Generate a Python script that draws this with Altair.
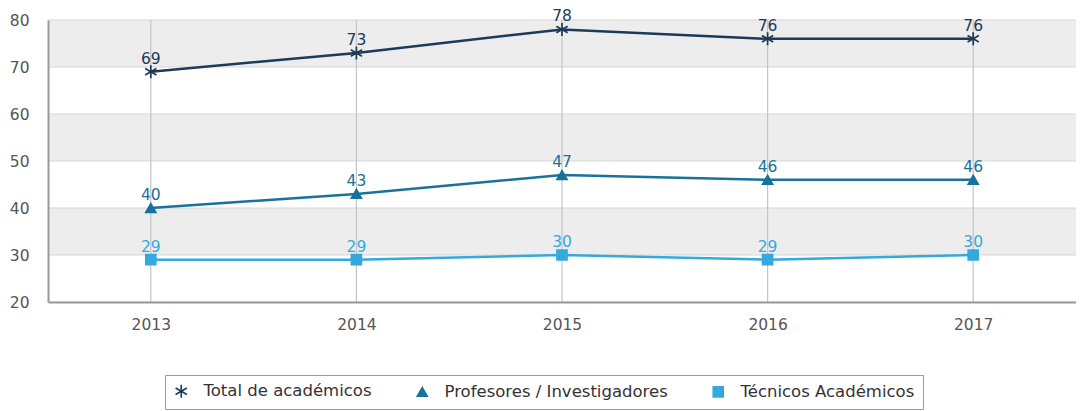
import altair as alt
import pandas as pd

years = [2013, 2014, 2015, 2016, 2017]
series = ["Total de académicos", "Profesores / Investigadores", "Técnicos Académicos"]
total = [69, 73, 78, 76, 76]
profesores = [40, 43, 47, 46, 46]
tecnicos = [29, 29, 30, 29, 30]
colors = ["#1d3a58", "#19729a", "#35a9dd"]
band_lo = [30, 50, 70]
band_hi = [40, 60, 80]
y_ticks = [20, 30, 40, 50, 60, 70, 80]

rows = []
for name, vals in zip(series, [total, profesores, tecnicos]):
    for yr, v in zip(years, vals):
        rows.append({"year": str(yr), "serie": name, "value": v})
df = pd.DataFrame(rows)
bands = pd.DataFrame({"lo": band_lo, "hi": band_hi})
ygrid = pd.DataFrame({"v": y_ticks})
xgrid = pd.DataFrame({"year": [str(y) for y in years]})

asterisk = "M0,-1.3L0,1.3M-1.13,-0.65L1.13,0.65M-1.13,0.65L1.13,-0.65"

xscale = alt.Scale(type="point", domain=[str(y) for y in years], padding=0.5)
xaxis = alt.Axis(title=None, labelAngle=0, labelFontSize=15.5, labelColor="#555",
                 labelPadding=15, ticks=False, domain=True, domainColor="#999",
                 domainWidth=2, grid=False, zindex=1)
yscale = alt.Scale(domain=[20, 80], nice=False, zero=False)
yaxis = alt.Axis(title=None, values=y_ticks, labelFontSize=15.5, labelColor="#555",
                 labelPadding=19, ticks=False, domainColor="#999", domainWidth=2,
                 grid=False, zindex=1)

band_layer = alt.Chart(bands).mark_rect(color="#ededee").encode(
    y=alt.Y("lo:Q", scale=yscale, axis=yaxis),
    y2="hi:Q",
    x=alt.value(0),
    x2=alt.value(1028),
)

hgrid = alt.Chart(ygrid).mark_rule(color="#d8d8d8", strokeWidth=1.2).encode(
    y=alt.Y("v:Q", scale=yscale, axis=yaxis),
    x=alt.value(0),
    x2=alt.value(1028),
)

vgrid = alt.Chart(xgrid).mark_rule(color="#c4c4c4", strokeWidth=1.2).encode(
    x=alt.X("year:N", scale=xscale, axis=xaxis),
    y=alt.value(0),
    y2=alt.value(282),
)

color_scale = alt.Scale(domain=series, range=colors)
shape_scale = alt.Scale(domain=series, range=[asterisk, "triangle-up", "square"])
legend = alt.Legend(orient="none", legendX=117, legendY=355, direction="horizontal",
                    strokeColor="#9a9a9a", padding=8, labelFontSize=16.5,
                    labelColor="#333", symbolSize=100, columnPadding=42,
                    labelOffset=14, symbolStrokeWidth=1.6, title=None, labelLimit=400)

base = alt.Chart(df).encode(x=alt.X("year:N", scale=xscale, axis=xaxis),
                            y=alt.Y("value:Q", scale=yscale, axis=yaxis))

lines = base.mark_line(strokeWidth=2.5).encode(
    color=alt.Color("serie:N", scale=color_scale, legend=legend, title=None),
    detail="serie:N",
)

points = base.mark_point(filled=True, opacity=1, size=100, strokeWidth=1.7).encode(
    color=alt.Color("serie:N", scale=color_scale, legend=legend, title=None),
    stroke=alt.Stroke("serie:N", scale=color_scale, legend=legend, title=None),
    shape=alt.Shape("serie:N", scale=shape_scale, legend=legend, title=None),
)

labels = base.mark_text(dy=-13, fontSize=15.5).encode(
    text="value:Q",
    color=alt.Color("serie:N", scale=color_scale, legend=legend, title=None),
)

chart = alt.layer(band_layer, hgrid, vgrid, lines, points, labels).properties(
    width=1028, height=282,
    autosize=alt.AutoSizeParams(type="none"),
    padding={"left": 40, "top": 12, "right": 0, "bottom": 108},
).configure_view(stroke=None).configure(font="DejaVu Sans")

chart.save("out.html", embed_options={"renderer": "svg", "actions": False})
